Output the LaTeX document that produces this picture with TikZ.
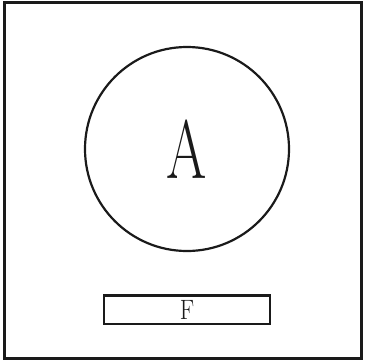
\documentclass[tikz,border=0pt]{standalone}
\usetikzlibrary{positioning}
\definecolor{inkblack}{HTML}{1A1A1A}
\begin{document}
\begin{tikzpicture}[
			x=1pt,
			y=-1pt,
			every node/.style={text=inkblack, inner sep=0pt},
			ring/.style={draw=inkblack, line width=2.2pt, circle, minimum size=204pt},
			plate/.style={draw=inkblack, line width=2.6pt, minimum width=166pt, minimum height=28.5pt}
		]
			\useasboundingbox (0,0) rectangle (366,362);

			% outer frame
			\draw[inkblack, line width=3pt]
				(4,2.5) rectangle (361,358.5);

			\node[ring] (ring) at (187,149)
				{\fontsize{83}{83}\selectfont\scalebox{0.7}[1]{A}};

			\node[plate, below=42pt of ring] (plate)
				{\fontsize{28}{28}\selectfont\scalebox{0.85}[1]{F}};
		\end{tikzpicture}
\end{document}
